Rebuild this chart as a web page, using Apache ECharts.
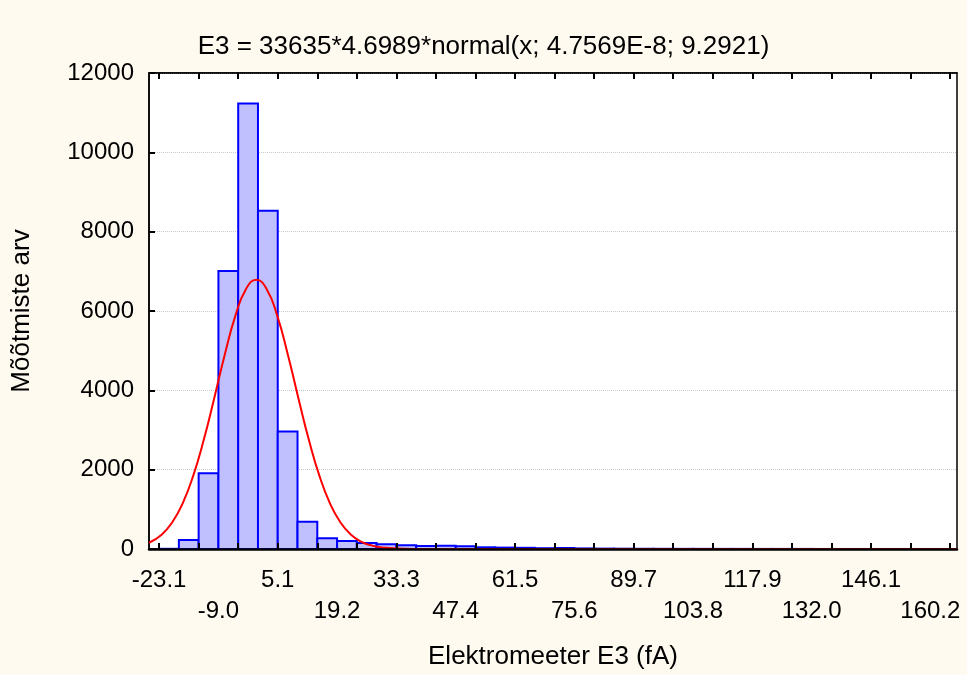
<!DOCTYPE html>
<html>
<head>
<meta charset="utf-8">
<script src="https://cdn.jsdelivr.net/npm/echarts@6.0.0/dist/echarts.min.js"></script>
<style>
html, body { margin: 0; padding: 0; background: #fffaf0; }
#chart { width: 967px; height: 675px; }
</style>
</head>
<body>
<div id="chart"></div>
<script>
// histogram bins, fA
var binStart = -23.1;
var binWidth = 4.6989;
var counts = [5, 227, 1910, 7010, 11230, 8525, 2960, 690, 270, 200,
	150, 118, 93, 76, 80, 68, 43, 35, 30, 20,
	25, 15, 10, 8, 6, 5, 4, 4, 3, 3,
	2, 2, 2, 1, 1, 1, 1, 1, 1, 1];
var tickLabels = ['-23.1', '-9.0', '5.1', '19.2', '33.3', '47.4', '61.5',
	'75.6', '89.7', '103.8', '117.9', '132.0', '146.1', '160.2'];

// fitted normal curve
var curveX = [-25.5, -22.5, -20, -17.5, -15, -12.5, -10, -7.5, -5, -2.5, 0,
	2.5, 5, 7.5, 10, 12.5, 15, 17.5, 20, 22.5, 25, 27.5, 30, 35, 40, 60, 100, 166.5];
var curveY = [157, 362, 669, 1152, 1844, 2746, 3803, 4899, 5871, 6545, 6786,
	6545, 5871, 4899, 3803, 2746, 1844, 1152, 669, 362, 182, 85, 37, 6, 1, 0, 0, 0];

var font = 'Liberation Sans, Arial, sans-serif';
var xMin = -25.5, xMax = 166.5;

var myChart = echarts.init(document.getElementById('chart'));

var bars = counts.map(function(c, i) {
	return [binStart + i * binWidth, binStart + (i + 1) * binWidth, c];
});
var line = curveX.map(function(x, i) { return [x, curveY[i]]; });
// ticks every 2 bins, labels every 3 bins on two alternating rows
var tickPos = [];
for (var k = 0; k <= 20; k++) tickPos.push(binStart + 2 * k * binWidth);
var row1 = [], row2 = [];
tickLabels.forEach(function(t, i) {
	(i % 2 ? row2 : row1).push(binStart + 3 * i * binWidth);
});
function labelOf(v) {
	return tickLabels[Math.round((v - binStart) / (3 * binWidth))];
}

function labelAxis(pos, margin) {
	return {
		type: 'value',
		min: xMin, max: xMax,
		position: 'bottom',
		axisLine: { show: false, onZero: false },
		axisTick: { show: false },
		axisLabel: {
			customValues: pos,
			showMaxLabel: true,
			showMinLabel: true,
			margin: margin,
			fontFamily: font, fontSize: 24, color: '#000',
			formatter: labelOf
		},
		splitLine: { show: false }
	};
}

var option = {
	backgroundColor: '#fffaf0',
	animation: false,
	title: {
		text: 'E3 = 33635*4.6989*normal(x; 4.7569E-8; 9.2921)',
		left: 'center',
		top: 29,
		textStyle: { fontFamily: font, fontSize: 26, fontWeight: 'normal', color: '#000' }
	},
	grid: {
		left: 149, right: 10, top: 73, bottom: 126,
		show: true,
		backgroundColor: '#fff',
		borderColor: '#000',
		borderWidth: 1.5
	},
	xAxis: [{
		type: 'value',
		min: xMin, max: xMax,
		position: 'bottom',
		z: 5,
		name: 'Elektromeeter E3 (fA)',
		nameLocation: 'middle',
		nameGap: 95,
		nameTextStyle: { fontFamily: font, fontSize: 26, color: '#000' },
		axisLine: { onZero: false, lineStyle: { color: '#000', width: 2.5 } },
		axisTick: { inside: true, length: 6, customValues: tickPos, lineStyle: { color: '#000', width: 2 } },
		axisLabel: { show: false },
		splitLine: { show: false }
	}, {
		type: 'value',
		min: xMin, max: xMax,
		position: 'top',
		axisLine: { onZero: false, lineStyle: { color: '#000', width: 1.5 } },
		axisTick: { inside: true, length: 6, customValues: tickPos, lineStyle: { color: '#000', width: 2 } },
		axisLabel: { show: false },
		splitLine: { show: false }
	},
		labelAxis(row1, 19),
		labelAxis(row2, 50)
	],
	yAxis: {
		type: 'value',
		min: 0, max: 12000, interval: 2000,
		name: 'Mõõtmiste arv',
		nameLocation: 'middle',
		nameGap: 114,
		nameTextStyle: { fontFamily: font, fontSize: 26, color: '#000' },
		axisLine: { show: true, onZero: false, lineStyle: { color: '#000', width: 1.5 } },
		axisTick: { show: true, inside: true, length: 6, lineStyle: { color: '#000', width: 2 } },
		axisLabel: {
			margin: 15, fontFamily: font, fontSize: 24, color: '#000',
			formatter: function(v) { return String(v); }
		},
		splitLine: { lineStyle: { color: '#c8c8c8', type: 'dotted', width: 1 } }
	},
	series: [{
		type: 'custom',
		xAxisIndex: 0,
		data: bars,
		encode: { x: [0, 1], y: 2 },
		renderItem: function(params, api) {
			var p1 = api.coord([api.value(0), api.value(2)]);
			var p2 = api.coord([api.value(1), 0]);
			return {
				type: 'rect',
				shape: { x: p1[0], y: p1[1], width: p2[0] - p1[0], height: p2[1] - p1[1] },
				style: { fill: '#c0c0ff', stroke: '#0000ff', lineWidth: 2 }
			};
		}
	}, {
		type: 'line',
		xAxisIndex: 0,
		data: line,
		smooth: true,
		symbol: 'none',
		lineStyle: { color: '#ff0000', width: 2 },
		z: 3
	}]
};
myChart.setOption(option);
window.addEventListener('resize', function() {
	myChart.resize();
});
</script>
</body>
</html>
